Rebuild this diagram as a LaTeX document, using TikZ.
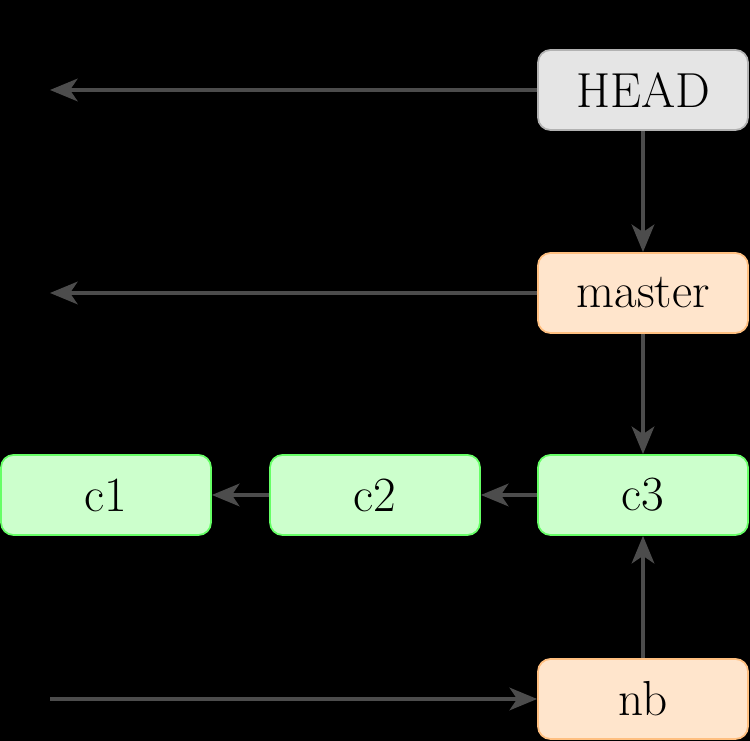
\documentclass[tikz,border=0pt]{standalone}
\usetikzlibrary{arrows.meta}
\begin{document}
\begin{tikzpicture}
\fill[black] (0,0) rectangle (15,14.82);
\useasboundingbox (0,0) rectangle (15,14.82);
\tikzset{
 box/.style={rounded corners=0.25cm, minimum width=4.2cm, minimum height=1.6cm, line width=1pt, font=\fontsize{28}{32}\selectfont, inner sep=0pt},
 headb/.style={box, fill=gray!20, draw=gray!60},
 refb/.style={box, fill=orange!20, draw=orange!50},
 comb/.style={box, fill=green!20, draw=green!60},
 conn/.style={draw=black!70, line width=0.08cm, -{Stealth[length=0.55cm,width=0.45cm,inset=0.15cm]}}
}
\node[headb] (head) at (12.86,13.02) {HEAD};
\node[refb] (master) at (12.86,8.96) {master};
\node[comb] (c3) at (12.86,4.92) {c3};
\node[comb] (c2) at (7.5,4.92) {c2};
\node[comb] (c1) at (2.12,4.92) {c1};
\node[refb] (nb) at (12.86,0.84) {nb};
\coordinate (h0) at (1,13.02);
\coordinate (m0) at (1,8.96);
\coordinate (n0) at (1,0.84);
\draw[conn] (head) -- (h0);
\draw[conn] (master) -- (m0);
\draw[conn] (n0) -- (nb);
\draw[conn] (head) -- (master);
\draw[conn] (master) -- (c3);
\draw[conn] (c3) -- (c2);
\draw[conn] (c2) -- (c1);
\draw[conn] (nb) -- (c3);
\end{tikzpicture}
\end{document}
